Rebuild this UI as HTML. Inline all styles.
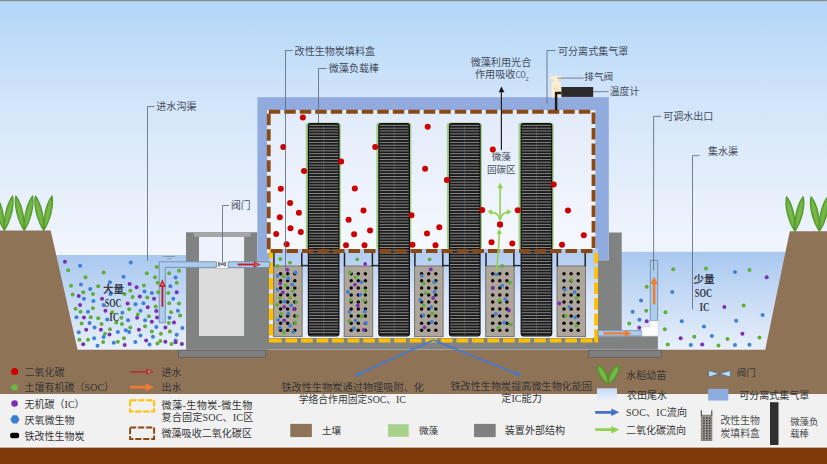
<!DOCTYPE html>
<html><head><meta charset="utf-8"><title>diagram</title>
<style>html,body{margin:0;padding:0;background:#fff;font-family:"Liberation Sans",sans-serif}svg{display:block}svg text{font-family:"Liberation Serif","Noto Sans CJK SC",sans-serif}</style>
</head><body>
<svg width="827" height="464" viewBox="0 0 827 464">
<defs>
<linearGradient id="sky" x1="0" y1="0" x2="0" y2="1"><stop offset="0" stop-color="#b2d6f8"/><stop offset="0.4" stop-color="#d2e5fa"/><stop offset="0.75" stop-color="#e6effb"/><stop offset="1" stop-color="#f2f6fd"/></linearGradient>
<linearGradient id="water" x1="0" y1="0" x2="0" y2="1"><stop offset="0" stop-color="#a9c8f0"/><stop offset="1" stop-color="#e9f0fb"/></linearGradient>
<linearGradient id="hoodin" x1="0" y1="0" x2="0" y2="1"><stop offset="0" stop-color="#e2ebfa"/><stop offset="1" stop-color="#f6f9fe"/></linearGradient>
<linearGradient id="inwater" x1="0" y1="0" x2="0" y2="1"><stop offset="0" stop-color="#afcaf1"/><stop offset="0.2" stop-color="#bed4f4"/><stop offset="0.5" stop-color="#d9e6f9"/><stop offset="1" stop-color="#eaf1fc"/></linearGradient>
<linearGradient id="leaf" x1="0" y1="0" x2="1" y2="0"><stop offset="0" stop-color="#4f9a2a"/><stop offset="0.5" stop-color="#7cc04a"/><stop offset="1" stop-color="#4f9a2a"/></linearGradient>
<pattern id="rodpat" x="0" y="123.9" width="1.72" height="2.84" patternUnits="userSpaceOnUse"><rect width="1.72" height="2.84" fill="#121212"/><rect y="1.0" width="1.72" height="0.85" fill="#868686"/><rect x="0.6" y="1.0" width="0.6" height="0.85" fill="#b4b4b4"/><rect x="0.65" width="0.45" height="2.84" fill="#777" opacity="0.35"/></pattern>
<linearGradient id="swatch" x1="0" y1="0" x2="0" y2="1"><stop offset="0" stop-color="#c6daf5"/><stop offset="1" stop-color="#e8f0fb"/></linearGradient>
</defs>
<rect x="0.00" y="0.00" width="827.00" height="256.00" fill="url(#sky)" />
<rect x="0.00" y="255.00" width="827.00" height="145.00" fill="#f2f6fd" />
<rect x="0.00" y="0.00" width="827.00" height="1.20" fill="#8c8c8c" />
<polygon points="50.00,254.90 187.00,254.90 187.00,351.00 70.00,351.00" fill="url(#water)" />
<polygon points="621.00,251.70 790.00,251.70 790.00,351.00 621.00,351.00" fill="url(#water)" />
<polygon points="0.00,230.60 50.70,230.60 77.60,349.80 765.20,349.80 789.80,231.20 827.00,231.20 827.00,395.00 0.00,395.00" fill="#8f7357" />
<rect x="0.00" y="394.00" width="827.00" height="53.20" fill="#f1f1f1" />
<rect x="0.00" y="446.20" width="827.00" height="1.80" fill="#fbfbfb" />
<rect x="0.00" y="447.60" width="827.00" height="16.40" fill="#80390b" />
<polygon points="186.00,232.20 257.30,232.20 257.30,260.40 269.20,260.40 269.20,349.60 186.00,349.60" fill="#818282" />
<rect x="199.00" y="236.80" width="45.10" height="31.60" fill="#edf2fb" />
<rect x="199.00" y="268.40" width="45.10" height="67.60" fill="#dddcdc" />
<rect x="194.00" y="232.20" width="56.70" height="4.60" fill="#a3a7a8" />
<rect x="186.00" y="336.30" width="471.90" height="13.30" fill="#818282" />
<polygon points="608.80,232.40 621.70,232.40 621.70,330.40 597.80,330.40 597.80,260.20 608.80,260.20" fill="#818282" />
<rect x="178.50" y="350.30" width="87.00" height="7.00" fill="#808080" stroke="#5e5e5e" stroke-width="0.8"/>
<rect x="588.80" y="350.30" width="72.50" height="7.00" fill="#808080" stroke="#5e5e5e" stroke-width="0.8"/>
<rect x="257.40" y="97.20" width="351.40" height="163.10" fill="#91abde" />
<rect x="267.00" y="110.00" width="328.40" height="142.90" fill="url(#hoodin)" />
<rect x="269.00" y="249.00" width="329.00" height="89.00" fill="url(#inwater)" />
<rect x="305.70" y="122.6" width="35.2" height="127" rx="3" fill="#a6d18b"/>
<rect x="308.40" y="123.5" width="30.5" height="212.3" rx="2.2" fill="url(#rodpat)"/>
<rect x="308.40" y="123.5" width="30.5" height="212.3" rx="2.2" fill="none" stroke="#111" stroke-width="1.2"/>
<line x1="323.60" y1="125.00" x2="323.60" y2="335.00" stroke="#888" stroke-width="0.60" opacity="0.6"/>
<rect x="376.20" y="122.6" width="35.2" height="127" rx="3" fill="#a6d18b"/>
<rect x="378.90" y="123.5" width="30.5" height="212.3" rx="2.2" fill="url(#rodpat)"/>
<rect x="378.90" y="123.5" width="30.5" height="212.3" rx="2.2" fill="none" stroke="#111" stroke-width="1.2"/>
<line x1="394.10" y1="125.00" x2="394.10" y2="335.00" stroke="#888" stroke-width="0.60" opacity="0.6"/>
<rect x="446.80" y="122.6" width="35.2" height="127" rx="3" fill="#a6d18b"/>
<rect x="449.50" y="123.5" width="30.5" height="212.3" rx="2.2" fill="url(#rodpat)"/>
<rect x="449.50" y="123.5" width="30.5" height="212.3" rx="2.2" fill="none" stroke="#111" stroke-width="1.2"/>
<line x1="464.70" y1="125.00" x2="464.70" y2="335.00" stroke="#888" stroke-width="0.60" opacity="0.6"/>
<rect x="518.50" y="122.6" width="35.2" height="127" rx="3" fill="#a6d18b"/>
<rect x="521.20" y="123.5" width="30.5" height="212.3" rx="2.2" fill="url(#rodpat)"/>
<rect x="521.20" y="123.5" width="30.5" height="212.3" rx="2.2" fill="none" stroke="#111" stroke-width="1.2"/>
<line x1="536.40" y1="125.00" x2="536.40" y2="335.00" stroke="#888" stroke-width="0.60" opacity="0.6"/>
<rect x="273.60" y="266.00" width="28.50" height="70.60" fill="#aea69a" stroke="#77726b" stroke-width="1"/>
<line x1="273.90" y1="252.80" x2="273.90" y2="266.30" stroke="#222" stroke-width="1.50" />
<line x1="301.80" y1="252.80" x2="301.80" y2="266.30" stroke="#222" stroke-width="1.50" />
<circle cx="280.60" cy="273.80" r="1.75" fill="#0a0a0a" />
<circle cx="287.70" cy="273.80" r="1.75" fill="#0a0a0a" />
<circle cx="294.80" cy="273.80" r="1.75" fill="#0a0a0a" />
<circle cx="280.60" cy="280.85" r="1.75" fill="#0a0a0a" />
<circle cx="287.70" cy="280.85" r="1.75" fill="#0a0a0a" />
<circle cx="294.80" cy="280.85" r="1.75" fill="#0a0a0a" />
<circle cx="280.60" cy="287.90" r="1.75" fill="#0a0a0a" />
<circle cx="287.70" cy="287.90" r="1.75" fill="#0a0a0a" />
<circle cx="294.80" cy="287.90" r="1.75" fill="#0a0a0a" />
<circle cx="280.60" cy="294.95" r="1.75" fill="#0a0a0a" />
<circle cx="287.70" cy="294.95" r="1.75" fill="#0a0a0a" />
<circle cx="294.80" cy="294.95" r="1.75" fill="#0a0a0a" />
<circle cx="280.60" cy="302.00" r="1.75" fill="#0a0a0a" />
<circle cx="287.70" cy="302.00" r="1.75" fill="#0a0a0a" />
<circle cx="294.80" cy="302.00" r="1.75" fill="#0a0a0a" />
<circle cx="280.60" cy="309.05" r="1.75" fill="#0a0a0a" />
<circle cx="287.70" cy="309.05" r="1.75" fill="#0a0a0a" />
<circle cx="294.80" cy="309.05" r="1.75" fill="#0a0a0a" />
<circle cx="280.60" cy="316.10" r="1.75" fill="#0a0a0a" />
<circle cx="287.70" cy="316.10" r="1.75" fill="#0a0a0a" />
<circle cx="294.80" cy="316.10" r="1.75" fill="#0a0a0a" />
<circle cx="280.60" cy="323.15" r="1.75" fill="#0a0a0a" />
<circle cx="287.70" cy="323.15" r="1.75" fill="#0a0a0a" />
<circle cx="294.80" cy="323.15" r="1.75" fill="#0a0a0a" />
<circle cx="280.60" cy="330.20" r="1.75" fill="#0a0a0a" />
<circle cx="287.70" cy="330.20" r="1.75" fill="#0a0a0a" />
<circle cx="294.80" cy="330.20" r="1.75" fill="#0a0a0a" />
<rect x="344.20" y="266.00" width="28.50" height="70.60" fill="#aea69a" stroke="#77726b" stroke-width="1"/>
<line x1="344.50" y1="252.80" x2="344.50" y2="266.30" stroke="#222" stroke-width="1.50" />
<line x1="372.40" y1="252.80" x2="372.40" y2="266.30" stroke="#222" stroke-width="1.50" />
<circle cx="351.20" cy="273.80" r="1.75" fill="#0a0a0a" />
<circle cx="358.30" cy="273.80" r="1.75" fill="#0a0a0a" />
<circle cx="365.40" cy="273.80" r="1.75" fill="#0a0a0a" />
<circle cx="351.20" cy="280.85" r="1.75" fill="#0a0a0a" />
<circle cx="358.30" cy="280.85" r="1.75" fill="#0a0a0a" />
<circle cx="365.40" cy="280.85" r="1.75" fill="#0a0a0a" />
<circle cx="351.20" cy="287.90" r="1.75" fill="#0a0a0a" />
<circle cx="358.30" cy="287.90" r="1.75" fill="#0a0a0a" />
<circle cx="365.40" cy="287.90" r="1.75" fill="#0a0a0a" />
<circle cx="351.20" cy="294.95" r="1.75" fill="#0a0a0a" />
<circle cx="358.30" cy="294.95" r="1.75" fill="#0a0a0a" />
<circle cx="365.40" cy="294.95" r="1.75" fill="#0a0a0a" />
<circle cx="351.20" cy="302.00" r="1.75" fill="#0a0a0a" />
<circle cx="358.30" cy="302.00" r="1.75" fill="#0a0a0a" />
<circle cx="365.40" cy="302.00" r="1.75" fill="#0a0a0a" />
<circle cx="351.20" cy="309.05" r="1.75" fill="#0a0a0a" />
<circle cx="358.30" cy="309.05" r="1.75" fill="#0a0a0a" />
<circle cx="365.40" cy="309.05" r="1.75" fill="#0a0a0a" />
<circle cx="351.20" cy="316.10" r="1.75" fill="#0a0a0a" />
<circle cx="358.30" cy="316.10" r="1.75" fill="#0a0a0a" />
<circle cx="365.40" cy="316.10" r="1.75" fill="#0a0a0a" />
<circle cx="351.20" cy="323.15" r="1.75" fill="#0a0a0a" />
<circle cx="358.30" cy="323.15" r="1.75" fill="#0a0a0a" />
<circle cx="365.40" cy="323.15" r="1.75" fill="#0a0a0a" />
<circle cx="351.20" cy="330.20" r="1.75" fill="#0a0a0a" />
<circle cx="358.30" cy="330.20" r="1.75" fill="#0a0a0a" />
<circle cx="365.40" cy="330.20" r="1.75" fill="#0a0a0a" />
<rect x="414.60" y="266.00" width="28.50" height="70.60" fill="#aea69a" stroke="#77726b" stroke-width="1"/>
<line x1="414.90" y1="252.80" x2="414.90" y2="266.30" stroke="#222" stroke-width="1.50" />
<line x1="442.80" y1="252.80" x2="442.80" y2="266.30" stroke="#222" stroke-width="1.50" />
<circle cx="421.60" cy="273.80" r="1.75" fill="#0a0a0a" />
<circle cx="428.70" cy="273.80" r="1.75" fill="#0a0a0a" />
<circle cx="435.80" cy="273.80" r="1.75" fill="#0a0a0a" />
<circle cx="421.60" cy="280.85" r="1.75" fill="#0a0a0a" />
<circle cx="428.70" cy="280.85" r="1.75" fill="#0a0a0a" />
<circle cx="435.80" cy="280.85" r="1.75" fill="#0a0a0a" />
<circle cx="421.60" cy="287.90" r="1.75" fill="#0a0a0a" />
<circle cx="428.70" cy="287.90" r="1.75" fill="#0a0a0a" />
<circle cx="435.80" cy="287.90" r="1.75" fill="#0a0a0a" />
<circle cx="421.60" cy="294.95" r="1.75" fill="#0a0a0a" />
<circle cx="428.70" cy="294.95" r="1.75" fill="#0a0a0a" />
<circle cx="435.80" cy="294.95" r="1.75" fill="#0a0a0a" />
<circle cx="421.60" cy="302.00" r="1.75" fill="#0a0a0a" />
<circle cx="428.70" cy="302.00" r="1.75" fill="#0a0a0a" />
<circle cx="435.80" cy="302.00" r="1.75" fill="#0a0a0a" />
<circle cx="421.60" cy="309.05" r="1.75" fill="#0a0a0a" />
<circle cx="428.70" cy="309.05" r="1.75" fill="#0a0a0a" />
<circle cx="435.80" cy="309.05" r="1.75" fill="#0a0a0a" />
<circle cx="421.60" cy="316.10" r="1.75" fill="#0a0a0a" />
<circle cx="428.70" cy="316.10" r="1.75" fill="#0a0a0a" />
<circle cx="435.80" cy="316.10" r="1.75" fill="#0a0a0a" />
<circle cx="421.60" cy="323.15" r="1.75" fill="#0a0a0a" />
<circle cx="428.70" cy="323.15" r="1.75" fill="#0a0a0a" />
<circle cx="435.80" cy="323.15" r="1.75" fill="#0a0a0a" />
<circle cx="421.60" cy="330.20" r="1.75" fill="#0a0a0a" />
<circle cx="428.70" cy="330.20" r="1.75" fill="#0a0a0a" />
<circle cx="435.80" cy="330.20" r="1.75" fill="#0a0a0a" />
<rect x="485.70" y="266.00" width="28.50" height="70.60" fill="#aea69a" stroke="#77726b" stroke-width="1"/>
<line x1="486.00" y1="252.80" x2="486.00" y2="266.30" stroke="#222" stroke-width="1.50" />
<line x1="513.90" y1="252.80" x2="513.90" y2="266.30" stroke="#222" stroke-width="1.50" />
<circle cx="492.70" cy="273.80" r="1.75" fill="#0a0a0a" />
<circle cx="499.80" cy="273.80" r="1.75" fill="#0a0a0a" />
<circle cx="506.90" cy="273.80" r="1.75" fill="#0a0a0a" />
<circle cx="492.70" cy="280.85" r="1.75" fill="#0a0a0a" />
<circle cx="499.80" cy="280.85" r="1.75" fill="#0a0a0a" />
<circle cx="506.90" cy="280.85" r="1.75" fill="#0a0a0a" />
<circle cx="492.70" cy="287.90" r="1.75" fill="#0a0a0a" />
<circle cx="499.80" cy="287.90" r="1.75" fill="#0a0a0a" />
<circle cx="506.90" cy="287.90" r="1.75" fill="#0a0a0a" />
<circle cx="492.70" cy="294.95" r="1.75" fill="#0a0a0a" />
<circle cx="499.80" cy="294.95" r="1.75" fill="#0a0a0a" />
<circle cx="506.90" cy="294.95" r="1.75" fill="#0a0a0a" />
<circle cx="492.70" cy="302.00" r="1.75" fill="#0a0a0a" />
<circle cx="499.80" cy="302.00" r="1.75" fill="#0a0a0a" />
<circle cx="506.90" cy="302.00" r="1.75" fill="#0a0a0a" />
<circle cx="492.70" cy="309.05" r="1.75" fill="#0a0a0a" />
<circle cx="499.80" cy="309.05" r="1.75" fill="#0a0a0a" />
<circle cx="506.90" cy="309.05" r="1.75" fill="#0a0a0a" />
<circle cx="492.70" cy="316.10" r="1.75" fill="#0a0a0a" />
<circle cx="499.80" cy="316.10" r="1.75" fill="#0a0a0a" />
<circle cx="506.90" cy="316.10" r="1.75" fill="#0a0a0a" />
<circle cx="492.70" cy="323.15" r="1.75" fill="#0a0a0a" />
<circle cx="499.80" cy="323.15" r="1.75" fill="#0a0a0a" />
<circle cx="506.90" cy="323.15" r="1.75" fill="#0a0a0a" />
<circle cx="492.70" cy="330.20" r="1.75" fill="#0a0a0a" />
<circle cx="499.80" cy="330.20" r="1.75" fill="#0a0a0a" />
<circle cx="506.90" cy="330.20" r="1.75" fill="#0a0a0a" />
<rect x="557.00" y="266.00" width="28.50" height="70.60" fill="#aea69a" stroke="#77726b" stroke-width="1"/>
<line x1="557.30" y1="252.80" x2="557.30" y2="266.30" stroke="#222" stroke-width="1.50" />
<line x1="585.20" y1="252.80" x2="585.20" y2="266.30" stroke="#222" stroke-width="1.50" />
<circle cx="564.00" cy="273.80" r="1.75" fill="#0a0a0a" />
<circle cx="571.10" cy="273.80" r="1.75" fill="#0a0a0a" />
<circle cx="578.20" cy="273.80" r="1.75" fill="#0a0a0a" />
<circle cx="564.00" cy="280.85" r="1.75" fill="#0a0a0a" />
<circle cx="571.10" cy="280.85" r="1.75" fill="#0a0a0a" />
<circle cx="578.20" cy="280.85" r="1.75" fill="#0a0a0a" />
<circle cx="564.00" cy="287.90" r="1.75" fill="#0a0a0a" />
<circle cx="571.10" cy="287.90" r="1.75" fill="#0a0a0a" />
<circle cx="578.20" cy="287.90" r="1.75" fill="#0a0a0a" />
<circle cx="564.00" cy="294.95" r="1.75" fill="#0a0a0a" />
<circle cx="571.10" cy="294.95" r="1.75" fill="#0a0a0a" />
<circle cx="578.20" cy="294.95" r="1.75" fill="#0a0a0a" />
<circle cx="564.00" cy="302.00" r="1.75" fill="#0a0a0a" />
<circle cx="571.10" cy="302.00" r="1.75" fill="#0a0a0a" />
<circle cx="578.20" cy="302.00" r="1.75" fill="#0a0a0a" />
<circle cx="564.00" cy="309.05" r="1.75" fill="#0a0a0a" />
<circle cx="571.10" cy="309.05" r="1.75" fill="#0a0a0a" />
<circle cx="578.20" cy="309.05" r="1.75" fill="#0a0a0a" />
<circle cx="564.00" cy="316.10" r="1.75" fill="#0a0a0a" />
<circle cx="571.10" cy="316.10" r="1.75" fill="#0a0a0a" />
<circle cx="578.20" cy="316.10" r="1.75" fill="#0a0a0a" />
<circle cx="564.00" cy="323.15" r="1.75" fill="#0a0a0a" />
<circle cx="571.10" cy="323.15" r="1.75" fill="#0a0a0a" />
<circle cx="578.20" cy="323.15" r="1.75" fill="#0a0a0a" />
<circle cx="564.00" cy="330.20" r="1.75" fill="#0a0a0a" />
<circle cx="571.10" cy="330.20" r="1.75" fill="#0a0a0a" />
<circle cx="578.20" cy="330.20" r="1.75" fill="#0a0a0a" />
<line x1="301.10" y1="265.60" x2="308.90" y2="265.60" stroke="#222" stroke-width="1.40" />
<line x1="371.70" y1="265.60" x2="379.40" y2="265.60" stroke="#222" stroke-width="1.40" />
<line x1="442.10" y1="265.60" x2="450.00" y2="265.60" stroke="#222" stroke-width="1.40" />
<line x1="513.20" y1="265.60" x2="521.70" y2="265.60" stroke="#222" stroke-width="1.40" />
<circle cx="280.30" cy="259.00" r="1.90" fill="#5fae3a" />
<circle cx="290.00" cy="262.70" r="1.90" fill="#5fae3a" />
<circle cx="277.50" cy="265.90" r="1.90" fill="#5fae3a" />
<circle cx="287.40" cy="269.80" r="1.90" fill="#7a2fb0" />
<circle cx="295.40" cy="272.40" r="1.90" fill="#3f7fd6" />
<circle cx="277.50" cy="275.80" r="1.90" fill="#3f7fd6" />
<circle cx="283.60" cy="276.30" r="1.90" fill="#5fae3a" />
<circle cx="288.30" cy="278.40" r="1.90" fill="#3f7fd6" />
<circle cx="280.30" cy="283.40" r="1.90" fill="#7a2fb0" />
<circle cx="285.70" cy="285.50" r="1.90" fill="#5fae3a" />
<circle cx="292.20" cy="284.40" r="1.90" fill="#3f7fd6" />
<circle cx="277.50" cy="289.60" r="1.90" fill="#3f7fd6" />
<circle cx="292.80" cy="290.90" r="1.90" fill="#5fae3a" />
<circle cx="282.90" cy="292.40" r="1.90" fill="#7a2fb0" />
<circle cx="279.70" cy="297.80" r="1.90" fill="#5fae3a" />
<circle cx="290.00" cy="297.80" r="1.90" fill="#5fae3a" />
<circle cx="284.60" cy="301.50" r="1.90" fill="#3f7fd6" />
<circle cx="296.50" cy="302.10" r="1.90" fill="#5fae3a" />
<circle cx="277.10" cy="304.90" r="1.90" fill="#5fae3a" />
<circle cx="291.10" cy="305.30" r="1.90" fill="#3f7fd6" />
<circle cx="284.20" cy="306.90" r="1.90" fill="#7a2fb0" />
<circle cx="293.90" cy="309.00" r="1.90" fill="#7a2fb0" />
<circle cx="281.00" cy="314.00" r="1.90" fill="#5fae3a" />
<circle cx="288.30" cy="313.50" r="1.90" fill="#3f7fd6" />
<circle cx="297.10" cy="316.10" r="1.90" fill="#5fae3a" />
<circle cx="278.20" cy="319.80" r="1.90" fill="#3f7fd6" />
<circle cx="284.20" cy="320.40" r="1.90" fill="#7a2fb0" />
<circle cx="295.40" cy="323.00" r="1.90" fill="#5fae3a" />
<circle cx="290.00" cy="325.80" r="1.90" fill="#3f7fd6" />
<circle cx="279.70" cy="328.00" r="1.90" fill="#3f7fd6" />
<circle cx="284.20" cy="332.70" r="1.90" fill="#5fae3a" />
<circle cx="293.20" cy="331.90" r="1.90" fill="#3f7fd6" />
<circle cx="357.20" cy="259.30" r="1.90" fill="#5fae3a" />
<circle cx="365.20" cy="263.90" r="1.90" fill="#7a2fb0" />
<circle cx="349.90" cy="272.40" r="1.90" fill="#5fae3a" />
<circle cx="355.50" cy="277.30" r="1.90" fill="#5fae3a" />
<circle cx="361.40" cy="282.10" r="1.90" fill="#3f7fd6" />
<circle cx="354.90" cy="284.70" r="1.90" fill="#7a2fb0" />
<circle cx="365.40" cy="290.60" r="1.90" fill="#5fae3a" />
<circle cx="347.90" cy="292.00" r="1.90" fill="#3f7fd6" />
<circle cx="360.40" cy="294.60" r="1.90" fill="#3f7fd6" />
<circle cx="350.90" cy="299.90" r="1.90" fill="#5fae3a" />
<circle cx="364.20" cy="300.50" r="1.90" fill="#5fae3a" />
<circle cx="357.80" cy="305.50" r="1.90" fill="#7a2fb0" />
<circle cx="349.30" cy="311.80" r="1.90" fill="#3f7fd6" />
<circle cx="364.80" cy="311.40" r="1.90" fill="#3f7fd6" />
<circle cx="361.80" cy="316.40" r="1.90" fill="#5fae3a" />
<circle cx="348.90" cy="320.90" r="1.90" fill="#5fae3a" />
<circle cx="355.50" cy="320.70" r="1.90" fill="#3f7fd6" />
<circle cx="365.80" cy="322.90" r="1.90" fill="#3f7fd6" />
<circle cx="353.90" cy="328.30" r="1.90" fill="#3f7fd6" />
<circle cx="363.80" cy="329.90" r="1.90" fill="#7a2fb0" />
<circle cx="429.60" cy="259.30" r="1.90" fill="#5fae3a" />
<circle cx="430.80" cy="269.40" r="1.90" fill="#7a2fb0" />
<circle cx="421.90" cy="275.80" r="1.90" fill="#3f7fd6" />
<circle cx="434.20" cy="282.10" r="1.90" fill="#3f7fd6" />
<circle cx="423.80" cy="283.30" r="1.90" fill="#5fae3a" />
<circle cx="434.50" cy="292.00" r="1.90" fill="#3f7fd6" />
<circle cx="425.80" cy="293.20" r="1.90" fill="#5fae3a" />
<circle cx="433.20" cy="298.00" r="1.90" fill="#7a2fb0" />
<circle cx="420.30" cy="299.90" r="1.90" fill="#3f7fd6" />
<circle cx="423.80" cy="305.50" r="1.90" fill="#5fae3a" />
<circle cx="431.20" cy="307.10" r="1.90" fill="#3f7fd6" />
<circle cx="432.20" cy="313.40" r="1.90" fill="#5fae3a" />
<circle cx="423.30" cy="315.40" r="1.90" fill="#3f7fd6" />
<circle cx="431.80" cy="321.90" r="1.90" fill="#3f7fd6" />
<circle cx="424.60" cy="327.30" r="1.90" fill="#7a2fb0" />
<circle cx="502.20" cy="265.80" r="1.90" fill="#5fae3a" />
<circle cx="496.30" cy="274.20" r="1.90" fill="#3f7fd6" />
<circle cx="509.80" cy="282.70" r="1.90" fill="#5fae3a" />
<circle cx="502.20" cy="285.70" r="1.90" fill="#3f7fd6" />
<circle cx="492.90" cy="288.10" r="1.90" fill="#7a2fb0" />
<circle cx="505.40" cy="299.20" r="1.90" fill="#3f7fd6" />
<circle cx="499.20" cy="300.60" r="1.90" fill="#5fae3a" />
<circle cx="508.80" cy="310.50" r="1.90" fill="#7a2fb0" />
<circle cx="495.90" cy="314.00" r="1.90" fill="#3f7fd6" />
<circle cx="504.20" cy="322.40" r="1.90" fill="#3f7fd6" />
<circle cx="510.70" cy="324.40" r="1.90" fill="#5fae3a" />
<circle cx="498.40" cy="327.70" r="1.90" fill="#5fae3a" />
<circle cx="571.60" cy="280.10" r="1.90" fill="#5fae3a" />
<circle cx="564.90" cy="289.60" r="1.90" fill="#3f7fd6" />
<circle cx="574.60" cy="292.00" r="1.90" fill="#3f7fd6" />
<circle cx="576.60" cy="298.00" r="1.90" fill="#5fae3a" />
<circle cx="559.30" cy="303.50" r="1.90" fill="#7a2fb0" />
<circle cx="569.30" cy="307.10" r="1.90" fill="#3f7fd6" />
<circle cx="565.70" cy="315.80" r="1.90" fill="#5fae3a" />
<circle cx="575.20" cy="317.40" r="1.90" fill="#3f7fd6" />
<circle cx="576.20" cy="325.70" r="1.90" fill="#5fae3a" />
<circle cx="302.90" cy="117.50" r="3.00" fill="#cc0000" />
<circle cx="283.30" cy="147.00" r="3.00" fill="#cc0000" />
<circle cx="304.00" cy="171.00" r="3.00" fill="#cc0000" />
<circle cx="280.80" cy="188.70" r="3.00" fill="#cc0000" />
<circle cx="290.10" cy="203.00" r="3.00" fill="#cc0000" />
<circle cx="298.90" cy="212.70" r="3.00" fill="#cc0000" />
<circle cx="279.80" cy="217.20" r="3.00" fill="#cc0000" />
<circle cx="290.50" cy="228.20" r="3.00" fill="#cc0000" />
<circle cx="300.80" cy="232.00" r="3.00" fill="#cc0000" />
<circle cx="276.20" cy="234.00" r="3.00" fill="#cc0000" />
<circle cx="286.60" cy="244.30" r="3.00" fill="#cc0000" />
<circle cx="375.20" cy="147.00" r="3.00" fill="#cc0000" />
<circle cx="341.20" cy="161.60" r="3.00" fill="#cc0000" />
<circle cx="354.80" cy="188.40" r="3.00" fill="#cc0000" />
<circle cx="363.50" cy="210.40" r="3.00" fill="#cc0000" />
<circle cx="348.60" cy="219.80" r="3.00" fill="#cc0000" />
<circle cx="354.10" cy="234.30" r="3.00" fill="#cc0000" />
<circle cx="370.00" cy="230.40" r="3.00" fill="#cc0000" />
<circle cx="346.00" cy="245.30" r="3.00" fill="#cc0000" />
<circle cx="364.50" cy="245.30" r="3.00" fill="#cc0000" />
<circle cx="427.70" cy="126.70" r="3.00" fill="#cc0000" />
<circle cx="425.10" cy="168.70" r="3.00" fill="#cc0000" />
<circle cx="446.80" cy="180.00" r="3.00" fill="#cc0000" />
<circle cx="411.50" cy="215.20" r="3.00" fill="#cc0000" />
<circle cx="439.30" cy="227.20" r="3.00" fill="#cc0000" />
<circle cx="427.00" cy="233.40" r="3.00" fill="#cc0000" />
<circle cx="412.50" cy="244.70" r="3.00" fill="#cc0000" />
<circle cx="435.50" cy="245.30" r="3.00" fill="#cc0000" />
<circle cx="492.80" cy="149.60" r="3.00" fill="#cc0000" />
<circle cx="482.20" cy="209.90" r="3.00" fill="#cc0000" />
<circle cx="517.70" cy="210.30" r="3.00" fill="#cc0000" />
<circle cx="500.00" cy="224.60" r="3.00" fill="#cc0000" />
<circle cx="491.50" cy="242.30" r="3.00" fill="#cc0000" />
<circle cx="512.30" cy="243.50" r="3.00" fill="#cc0000" />
<circle cx="553.70" cy="184.50" r="3.00" fill="#cc0000" />
<circle cx="568.00" cy="210.40" r="3.00" fill="#cc0000" />
<circle cx="583.80" cy="235.30" r="3.00" fill="#cc0000" />
<circle cx="562.00" cy="244.70" r="3.00" fill="#cc0000" />
<line x1="271.05" y1="335.60" x2="271.05" y2="249.30" stroke="#ffc000" stroke-width="4.10" stroke-dasharray="11.6 3.8"/>
<line x1="269.00" y1="340.55" x2="598.10" y2="340.55" stroke="#ffc000" stroke-width="4.10" stroke-dasharray="12.7 3.74 11.8 3.74 11.8 3.74 11.8 3.74 11.8 3.74 11.8 3.74 11.8 3.74 11.8 3.74 11.8 3.74 11.8 3.74 11.8 3.74 11.8 3.74 11.8 3.74 11.8 3.74 11.8 3.74 11.8 3.74 11.8 3.74 11.8 3.74 11.8 3.74 11.8 3.74 11.8 3.9 2 200"/>
<line x1="596.10" y1="342.60" x2="596.10" y2="253.00" stroke="#ffc000" stroke-width="3.90" stroke-dasharray="13.3 3.9 11.8 3.9 11.8 3.8 11.5 3.6 12.1 3.6 11.6 200"/>
<rect x="268.75" y="111.75" width="324.75" height="139.25" fill="none" stroke="#8b4a15" stroke-width="3.8" stroke-dasharray="11.5 4"/>
<path d="M159.2 322.8 V261.8 H216.4 V267.4 H165.3 V322.8 Z" fill="#adcdec" stroke="#6f8db2" stroke-width="0.9"/>
<rect x="228.20" y="261.80" width="41.40" height="5.60" fill="#adcdec" stroke="#6f8db2" stroke-width="0.9"/>
<path d="M218.6 262.4 L225.3 265.9 L225.3 262.4 L218.6 265.9 Z" fill="#c8d4e0" stroke="#444" stroke-width="0.8"/>
<rect x="597.90" y="330.70" width="43.90" height="5.30" fill="#adcdec" stroke="#6f8db2" stroke-width="0.9"/>
<rect x="650.30" y="260.30" width="7.40" height="60.30" fill="#adcdec" stroke="#6f8db2" stroke-width="0.9"/>
<path d="M641.8 327 H650.1 V320.7 H657.9 V336.1 H641.8 Z" fill="#fdfdfd" stroke="#bbb" stroke-width="0.6" stroke-dasharray="1 1"/>
<line x1="162.60" y1="256.50" x2="175.20" y2="256.50" stroke="#7d8ea6" stroke-width="0.80" />
<line x1="166.50" y1="258.70" x2="172.00" y2="258.70" stroke="#7d8ea6" stroke-width="0.70" />
<path d="M237.70 263.50 H253.80 V261.30 L260.80 264.50 L253.80 267.70 V265.50 H237.70 Z" fill="#bd222d" />
<path d="M255.0 263.0 L258.6 264.5 L255.0 266.0 Z" fill="#e86a6a" />
<path d="M161.45 306.80 V286.90 H158.90 L162.40 279.30 L165.90 286.90 H163.35 V306.80 Z" fill="#bd222d" />
<path d="M161.0 285.6 L162.4 282.2 L163.8 285.6 Z" fill="#e86a6a" />
<path d="M603.30 332.30 H624.60 V330.10 L631.60 333.40 L624.60 336.70 V334.50 H603.30 Z" fill="#ed7d31" />
<path d="M652.80 304.30 V284.30 H650.30 L654.10 276.80 L657.90 284.30 H655.40 V304.30 Z" fill="#ed7d31" />
<circle cx="64.93" cy="261.76" r="2.00" fill="#7a2fb0" />
<circle cx="130.77" cy="262.44" r="2.00" fill="#3f7fd6" />
<circle cx="80.09" cy="265.84" r="2.00" fill="#3f7fd6" />
<circle cx="156.79" cy="266.97" r="2.00" fill="#5fae3a" />
<circle cx="68.10" cy="270.36" r="2.00" fill="#5fae3a" />
<circle cx="103.62" cy="272.62" r="2.00" fill="#5fae3a" />
<circle cx="146.83" cy="273.30" r="2.00" fill="#5fae3a" />
<circle cx="169.23" cy="273.30" r="2.00" fill="#5fae3a" />
<circle cx="178.96" cy="270.81" r="2.00" fill="#5fae3a" />
<circle cx="85.52" cy="277.15" r="2.00" fill="#5fae3a" />
<circle cx="123.53" cy="276.70" r="2.00" fill="#3f7fd6" />
<circle cx="154.98" cy="277.15" r="2.00" fill="#5fae3a" />
<circle cx="175.57" cy="277.60" r="2.00" fill="#3f7fd6" />
<circle cx="71.04" cy="285.75" r="2.00" fill="#5fae3a" />
<circle cx="81.00" cy="284.39" r="2.00" fill="#3f7fd6" />
<circle cx="109.95" cy="282.35" r="2.00" fill="#3f7fd6" />
<circle cx="129.64" cy="283.94" r="2.00" fill="#7a2fb0" />
<circle cx="143.89" cy="285.52" r="2.00" fill="#5fae3a" />
<circle cx="157.69" cy="282.81" r="2.00" fill="#5fae3a" />
<circle cx="170.36" cy="286.20" r="2.00" fill="#3f7fd6" />
<circle cx="176.70" cy="282.81" r="2.00" fill="#5fae3a" />
<circle cx="90.27" cy="288.91" r="2.00" fill="#3f7fd6" />
<circle cx="98.19" cy="286.20" r="2.00" fill="#5fae3a" />
<circle cx="136.65" cy="287.33" r="2.00" fill="#7a2fb0" />
<circle cx="130.32" cy="290.72" r="2.00" fill="#5fae3a" />
<circle cx="72.62" cy="294.57" r="2.00" fill="#5fae3a" />
<circle cx="78.73" cy="295.93" r="2.00" fill="#7a2fb0" />
<circle cx="83.26" cy="292.31" r="2.00" fill="#5fae3a" />
<circle cx="92.99" cy="294.12" r="2.00" fill="#5fae3a" />
<circle cx="110.41" cy="294.12" r="2.00" fill="#3f7fd6" />
<circle cx="124.66" cy="294.12" r="2.00" fill="#5fae3a" />
<circle cx="144.57" cy="291.40" r="2.00" fill="#3f7fd6" />
<circle cx="151.81" cy="292.99" r="2.00" fill="#3f7fd6" />
<circle cx="158.14" cy="292.31" r="2.00" fill="#5fae3a" />
<circle cx="168.33" cy="292.99" r="2.00" fill="#5fae3a" />
<circle cx="176.70" cy="292.31" r="2.00" fill="#7a2fb0" />
<circle cx="83.94" cy="298.64" r="2.00" fill="#3f7fd6" />
<circle cx="93.44" cy="300.90" r="2.00" fill="#3f7fd6" />
<circle cx="102.04" cy="298.64" r="2.00" fill="#7a2fb0" />
<circle cx="132.58" cy="297.06" r="2.00" fill="#5fae3a" />
<circle cx="139.82" cy="296.38" r="2.00" fill="#7a2fb0" />
<circle cx="147.29" cy="297.51" r="2.00" fill="#5fae3a" />
<circle cx="154.07" cy="298.64" r="2.00" fill="#7a2fb0" />
<circle cx="173.30" cy="298.64" r="2.00" fill="#3f7fd6" />
<circle cx="80.09" cy="304.98" r="2.00" fill="#7a2fb0" />
<circle cx="92.99" cy="308.14" r="2.00" fill="#5fae3a" />
<circle cx="103.62" cy="304.98" r="2.00" fill="#3f7fd6" />
<circle cx="127.60" cy="303.62" r="2.00" fill="#7a2fb0" />
<circle cx="135.52" cy="304.30" r="2.00" fill="#3f7fd6" />
<circle cx="143.44" cy="303.17" r="2.00" fill="#3f7fd6" />
<circle cx="155.66" cy="306.56" r="2.00" fill="#5fae3a" />
<circle cx="147.74" cy="307.24" r="2.00" fill="#7a2fb0" />
<circle cx="169.23" cy="303.17" r="2.00" fill="#5fae3a" />
<circle cx="178.96" cy="303.62" r="2.00" fill="#5fae3a" />
<circle cx="75.57" cy="308.82" r="2.00" fill="#5fae3a" />
<circle cx="80.54" cy="311.76" r="2.00" fill="#5fae3a" />
<circle cx="88.01" cy="311.76" r="2.00" fill="#3f7fd6" />
<circle cx="105.43" cy="310.63" r="2.00" fill="#7a2fb0" />
<circle cx="112.22" cy="312.22" r="2.00" fill="#5fae3a" />
<circle cx="122.40" cy="312.67" r="2.00" fill="#3f7fd6" />
<circle cx="129.19" cy="309.28" r="2.00" fill="#5fae3a" />
<circle cx="140.50" cy="310.63" r="2.00" fill="#3f7fd6" />
<circle cx="156.33" cy="311.09" r="2.00" fill="#7a2fb0" />
<circle cx="171.04" cy="312.22" r="2.00" fill="#5fae3a" />
<circle cx="177.83" cy="310.63" r="2.00" fill="#3f7fd6" />
<circle cx="76.47" cy="317.19" r="2.00" fill="#3f7fd6" />
<circle cx="83.94" cy="317.42" r="2.00" fill="#7a2fb0" />
<circle cx="90.72" cy="317.19" r="2.00" fill="#5fae3a" />
<circle cx="98.19" cy="318.33" r="2.00" fill="#5fae3a" />
<circle cx="121.27" cy="317.87" r="2.00" fill="#5fae3a" />
<circle cx="107.24" cy="319.46" r="2.00" fill="#3f7fd6" />
<circle cx="128.05" cy="320.14" r="2.00" fill="#3f7fd6" />
<circle cx="137.10" cy="317.87" r="2.00" fill="#7a2fb0" />
<circle cx="137.78" cy="314.48" r="2.00" fill="#5fae3a" />
<circle cx="148.87" cy="316.29" r="2.00" fill="#5fae3a" />
<circle cx="157.01" cy="317.42" r="2.00" fill="#7a2fb0" />
<circle cx="169.46" cy="317.87" r="2.00" fill="#3f7fd6" />
<circle cx="180.09" cy="315.61" r="2.00" fill="#5fae3a" />
<circle cx="81.67" cy="323.53" r="2.00" fill="#5fae3a" />
<circle cx="89.59" cy="323.08" r="2.00" fill="#3f7fd6" />
<circle cx="101.58" cy="323.98" r="2.00" fill="#5fae3a" />
<circle cx="116.29" cy="322.40" r="2.00" fill="#5fae3a" />
<circle cx="121.95" cy="323.98" r="2.00" fill="#5fae3a" />
<circle cx="145.02" cy="320.14" r="2.00" fill="#3f7fd6" />
<circle cx="151.81" cy="321.72" r="2.00" fill="#7a2fb0" />
<circle cx="173.98" cy="322.40" r="2.00" fill="#7a2fb0" />
<circle cx="168.78" cy="323.08" r="2.00" fill="#5fae3a" />
<circle cx="94.57" cy="327.60" r="2.00" fill="#3f7fd6" />
<circle cx="86.20" cy="329.86" r="2.00" fill="#7a2fb0" />
<circle cx="100.90" cy="329.86" r="2.00" fill="#7a2fb0" />
<circle cx="109.95" cy="329.19" r="2.00" fill="#5fae3a" />
<circle cx="125.79" cy="330.32" r="2.00" fill="#3f7fd6" />
<circle cx="130.32" cy="327.60" r="2.00" fill="#5fae3a" />
<circle cx="138.91" cy="329.86" r="2.00" fill="#7a2fb0" />
<circle cx="145.02" cy="326.24" r="2.00" fill="#5fae3a" />
<circle cx="156.33" cy="326.92" r="2.00" fill="#3f7fd6" />
<circle cx="165.38" cy="327.38" r="2.00" fill="#7a2fb0" />
<circle cx="182.35" cy="328.05" r="2.00" fill="#3f7fd6" />
<circle cx="78.73" cy="332.13" r="2.00" fill="#3f7fd6" />
<circle cx="117.87" cy="331.90" r="2.00" fill="#3f7fd6" />
<circle cx="104.98" cy="333.71" r="2.00" fill="#5fae3a" />
<circle cx="109.50" cy="334.39" r="2.00" fill="#7a2fb0" />
<circle cx="129.19" cy="331.90" r="2.00" fill="#3f7fd6" />
<circle cx="140.50" cy="335.52" r="2.00" fill="#3f7fd6" />
<circle cx="151.81" cy="331.45" r="2.00" fill="#5fae3a" />
<circle cx="160.86" cy="333.71" r="2.00" fill="#5fae3a" />
<circle cx="169.91" cy="331.45" r="2.00" fill="#5fae3a" />
<circle cx="176.70" cy="334.84" r="2.00" fill="#3f7fd6" />
<circle cx="79.41" cy="339.82" r="2.00" fill="#5fae3a" />
<circle cx="88.01" cy="339.82" r="2.00" fill="#5fae3a" />
<circle cx="94.12" cy="338.24" r="2.00" fill="#3f7fd6" />
<circle cx="103.62" cy="337.10" r="2.00" fill="#3f7fd6" />
<circle cx="123.98" cy="338.24" r="2.00" fill="#5fae3a" />
<circle cx="117.87" cy="341.63" r="2.00" fill="#5fae3a" />
<circle cx="152.94" cy="336.65" r="2.00" fill="#3f7fd6" />
<circle cx="146.15" cy="340.50" r="2.00" fill="#7a2fb0" />
<circle cx="160.41" cy="340.95" r="2.00" fill="#5fae3a" />
<circle cx="165.38" cy="341.63" r="2.00" fill="#7a2fb0" />
<circle cx="171.49" cy="343.89" r="2.00" fill="#5fae3a" />
<circle cx="175.57" cy="340.50" r="2.00" fill="#3f7fd6" />
<circle cx="83.26" cy="344.34" r="2.00" fill="#7a2fb0" />
<circle cx="97.51" cy="345.70" r="2.00" fill="#3f7fd6" />
<circle cx="103.17" cy="342.08" r="2.00" fill="#5fae3a" />
<circle cx="113.80" cy="342.76" r="2.00" fill="#3f7fd6" />
<circle cx="124.66" cy="345.02" r="2.00" fill="#7a2fb0" />
<circle cx="135.29" cy="342.08" r="2.00" fill="#3f7fd6" />
<circle cx="149.55" cy="344.57" r="2.00" fill="#3f7fd6" />
<circle cx="157.47" cy="343.44" r="2.00" fill="#5fae3a" />
<circle cx="175.57" cy="342.31" r="2.00" fill="#7a2fb0" />
<circle cx="181.90" cy="343.89" r="2.00" fill="#7a2fb0" />
<circle cx="673.18" cy="269.24" r="2.00" fill="#5fae3a" />
<circle cx="706.01" cy="268.56" r="2.00" fill="#5fae3a" />
<circle cx="734.99" cy="271.96" r="2.00" fill="#3f7fd6" />
<circle cx="749.48" cy="269.92" r="2.00" fill="#5fae3a" />
<circle cx="766.69" cy="277.17" r="2.00" fill="#7a2fb0" />
<circle cx="646.70" cy="286.68" r="2.00" fill="#5fae3a" />
<circle cx="672.28" cy="291.88" r="2.00" fill="#3f7fd6" />
<circle cx="641.04" cy="300.49" r="2.00" fill="#3f7fd6" />
<circle cx="724.35" cy="307.05" r="2.00" fill="#7a2fb0" />
<circle cx="743.59" cy="305.47" r="2.00" fill="#5fae3a" />
<circle cx="632.66" cy="311.81" r="2.00" fill="#3f7fd6" />
<circle cx="646.24" cy="310.67" r="2.00" fill="#5fae3a" />
<circle cx="665.49" cy="312.26" r="2.00" fill="#5fae3a" />
<circle cx="762.61" cy="314.98" r="2.00" fill="#3f7fd6" />
<circle cx="639.45" cy="319.73" r="2.00" fill="#3f7fd6" />
<circle cx="646.70" cy="321.32" r="2.00" fill="#7a2fb0" />
<circle cx="681.79" cy="321.32" r="2.00" fill="#3f7fd6" />
<circle cx="736.12" cy="320.86" r="2.00" fill="#3f7fd6" />
<circle cx="629.26" cy="323.58" r="2.00" fill="#5fae3a" />
<circle cx="639.22" cy="327.65" r="2.00" fill="#7a2fb0" />
<circle cx="703.97" cy="326.52" r="2.00" fill="#3f7fd6" />
<circle cx="664.81" cy="329.24" r="2.00" fill="#5fae3a" />
<circle cx="742.46" cy="333.77" r="2.00" fill="#7a2fb0" />
<circle cx="694.24" cy="336.71" r="2.00" fill="#5fae3a" />
<circle cx="711.90" cy="336.03" r="2.00" fill="#3f7fd6" />
<circle cx="680.66" cy="338.30" r="2.00" fill="#7a2fb0" />
<circle cx="727.52" cy="338.97" r="2.00" fill="#5fae3a" />
<circle cx="759.44" cy="337.62" r="2.00" fill="#5fae3a" />
<circle cx="667.75" cy="344.41" r="2.00" fill="#5fae3a" />
<circle cx="690.84" cy="345.09" r="2.00" fill="#3f7fd6" />
<circle cx="702.16" cy="344.41" r="2.00" fill="#7a2fb0" />
<circle cx="718.46" cy="345.54" r="2.00" fill="#5fae3a" />
<circle cx="734.99" cy="345.09" r="2.00" fill="#3f7fd6" />
<circle cx="749.48" cy="344.63" r="2.00" fill="#3f7fd6" />
<path d="M4.30 231.50 C6.22 219.49 1.92 201.24 -4.30 195.00 C-7.08 203.36 -2.78 221.61 4.30 231.50 Z" fill="#4f9129" />
<path d="M3.87 229.68 C5.03 218.88 1.12 202.28 -3.96 196.46 C-5.90 203.93 -1.99 220.54 3.87 229.68 Z" fill="#62a737" />
<path d="M3.18 226.75 C3.41 218.03 0.18 204.35 -3.27 199.38 C-4.14 205.36 -0.91 219.05 3.18 226.75 Z" fill="#76b948" />
<path d="M4.30 231.50 C11.38 221.61 15.68 203.36 12.90 195.00 C6.68 201.24 2.38 219.49 4.30 231.50 Z" fill="#4f9129" />
<path d="M4.73 229.68 C10.59 220.54 14.50 203.93 12.56 196.46 C7.48 202.28 3.57 218.88 4.73 229.68 Z" fill="#62a737" />
<path d="M5.42 226.75 C9.51 219.05 12.74 205.36 11.87 199.38 C8.42 204.35 5.19 218.03 5.42 226.75 Z" fill="#76b948" />
<path d="M24.20 231.50 C26.12 219.49 21.82 201.24 15.60 195.00 C12.82 203.36 17.12 221.61 24.20 231.50 Z" fill="#4f9129" />
<path d="M23.77 229.68 C24.93 218.88 21.02 202.28 15.94 196.46 C14.00 203.93 17.91 220.54 23.77 229.68 Z" fill="#62a737" />
<path d="M23.08 226.75 C23.31 218.03 20.08 204.35 16.63 199.38 C15.76 205.36 18.99 219.05 23.08 226.75 Z" fill="#76b948" />
<path d="M24.20 231.50 C31.28 221.61 35.58 203.36 32.80 195.00 C26.58 201.24 22.28 219.49 24.20 231.50 Z" fill="#4f9129" />
<path d="M24.63 229.68 C30.49 220.54 34.40 203.93 32.46 196.46 C27.38 202.28 23.47 218.88 24.63 229.68 Z" fill="#62a737" />
<path d="M25.32 226.75 C29.41 219.05 32.64 205.36 31.77 199.38 C28.32 204.35 25.09 218.03 25.32 226.75 Z" fill="#76b948" />
<path d="M43.70 231.50 C45.62 219.49 41.32 201.24 35.10 195.00 C32.32 203.36 36.62 221.61 43.70 231.50 Z" fill="#4f9129" />
<path d="M43.27 229.68 C44.43 218.88 40.52 202.28 35.44 196.46 C33.50 203.93 37.41 220.54 43.27 229.68 Z" fill="#62a737" />
<path d="M42.58 226.75 C42.81 218.03 39.58 204.35 36.13 199.38 C35.26 205.36 38.49 219.05 42.58 226.75 Z" fill="#76b948" />
<path d="M43.70 231.50 C50.78 221.61 55.08 203.36 52.30 195.00 C46.08 201.24 41.78 219.49 43.70 231.50 Z" fill="#4f9129" />
<path d="M44.13 229.68 C49.99 220.54 53.90 203.93 51.96 196.46 C46.88 202.28 42.97 218.88 44.13 229.68 Z" fill="#62a737" />
<path d="M44.82 226.75 C48.91 219.05 52.14 205.36 51.27 199.38 C47.82 204.35 44.59 218.03 44.82 226.75 Z" fill="#76b948" />
<path d="M794.90 232.20 C797.07 220.13 792.77 201.88 786.30 195.70 C783.27 204.12 787.57 222.37 794.90 232.20 Z" fill="#4f9129" />
<path d="M794.47 230.38 C795.83 219.54 791.92 202.93 786.64 197.16 C784.50 204.68 788.41 221.28 794.47 230.38 Z" fill="#62a737" />
<path d="M793.78 227.45 C794.13 218.70 790.90 205.02 787.33 200.08 C786.34 206.09 789.57 219.78 793.78 227.45 Z" fill="#76b948" />
<path d="M794.90 232.20 C802.23 222.37 806.53 204.12 803.50 195.70 C797.03 201.88 792.73 220.13 794.90 232.20 Z" fill="#4f9129" />
<path d="M795.33 230.38 C801.39 221.28 805.30 204.68 803.16 197.16 C797.88 202.93 793.97 219.54 795.33 230.38 Z" fill="#62a737" />
<path d="M796.02 227.45 C800.23 219.78 803.46 206.09 802.47 200.08 C798.90 205.02 795.67 218.70 796.02 227.45 Z" fill="#76b948" />
<path d="M819.40 232.20 C821.57 220.13 817.27 201.88 810.80 195.70 C807.77 204.12 812.07 222.37 819.40 232.20 Z" fill="#4f9129" />
<path d="M818.97 230.38 C820.33 219.54 816.42 202.93 811.14 197.16 C809.00 204.68 812.91 221.28 818.97 230.38 Z" fill="#62a737" />
<path d="M818.28 227.45 C818.63 218.70 815.40 205.02 811.83 200.08 C810.84 206.09 814.07 219.78 818.28 227.45 Z" fill="#76b948" />
<path d="M819.40 232.20 C826.73 222.37 831.03 204.12 828.00 195.70 C821.53 201.88 817.23 220.13 819.40 232.20 Z" fill="#4f9129" />
<path d="M819.83 230.38 C825.89 221.28 829.80 204.68 827.66 197.16 C822.38 202.93 818.47 219.54 819.83 230.38 Z" fill="#62a737" />
<path d="M820.52 227.45 C824.73 219.78 827.96 206.09 826.97 200.08 C823.40 205.02 820.17 218.70 820.52 227.45 Z" fill="#76b948" />
<g stroke="#92d050" stroke-width="1.6" fill="none" stroke-linecap="round">
<path d="M496.3 272.5 Q498.6 252 499.3 233" fill="none" />
<path d="M500.1 219 L500.2 187.5" fill="none" />
<path d="M499.6 219.5 Q499 212.5 490.5 212.3" fill="none" />
<path d="M500.6 219.5 Q501.5 212.5 508.3 212.3" fill="none" />
</g>
<path d="M496.6 234 L499.4 228.6 L502.0 234 Z" fill="#92d050" />
<path d="M497.4 188.3 L500.2 182.6 L503.0 188.3 Z" fill="#92d050" />
<path d="M492.3 209.6 L487.3 211.3 L491.7 215 Z" fill="#92d050" />
<path d="M506.6 209.6 L511.6 211.3 L507.2 215 Z" fill="#92d050" />
<circle cx="500.00" cy="224.60" r="3.00" fill="#cc0000" />
<line x1="433.30" y1="340.00" x2="357.00" y2="374.80" stroke="#3e7adb" stroke-width="1.50" />
<path d="M354.6 376.0 L359.4 371.4 L361.4 375.6 Z" fill="#3e7adb" />
<line x1="433.30" y1="340.00" x2="518.50" y2="374.60" stroke="#3e7adb" stroke-width="1.50" />
<path d="M521.0 375.6 L516.2 371.2 L514.4 375.5 Z" fill="#3e7adb" />
<rect x="549.7" y="76" width="12" height="3.2" rx="1.5" fill="#fbefce"/>
<rect x="553.70" y="78.50" width="4.70" height="3.50" fill="#fbefce" />
<path d="M551.4 97.4 V83.6 Q551.4 81.4 553.6 81.4 H558.8 Q561 81.4 561 83.6 V97.4 Z" fill="#fbefce" />
<path d="M554 86.5 L558.5 90.5 M554 88.5 H557" fill="none" stroke="#eec9b0" stroke-width="0.8"/>
<rect x="561.40" y="87.00" width="31.80" height="9.90" fill="#2a2a2a" />
<path d="M561.4 93 H556.1 V110.2" fill="none" stroke="#1c1c1c" stroke-width="2.4"/>
<line x1="501.40" y1="150.00" x2="501.40" y2="91.00" stroke="#222" stroke-width="1.20" />
<path d="M498.7 92.2 L501.5 86.6 L504.3 92.2 Z" fill="#111" />
<path d="M285.50 269.50 V50.50 H292.50" fill="none" stroke="#616b7c" stroke-width="0.85"/>
<path d="M318.50 123.00 V68.50 H326.50" fill="none" stroke="#616b7c" stroke-width="0.85"/>
<path d="M147.50 260.70 V106.50 H154.50" fill="none" stroke="#616b7c" stroke-width="0.85"/>
<path d="M222.50 263.00 V205.50 H229.00" fill="none" stroke="#616b7c" stroke-width="0.85"/>
<path d="M547.00 103.70 V50.50 H555.50" fill="none" stroke="#616b7c" stroke-width="0.85"/>
<path d="M653.60 270.50 V116.40 H661.00" fill="none" stroke="#616b7c" stroke-width="0.85"/>
<path d="M692.50 309.50 V155.60 H699.50" fill="none" stroke="#616b7c" stroke-width="0.85"/>
<line x1="557.50" y1="78.10" x2="583.80" y2="78.10" stroke="#777f8a" stroke-width="1.00" />
<line x1="593.20" y1="91.70" x2="608.60" y2="91.70" stroke="#777f8a" stroke-width="1.00" />
<text x="294.60" y="54.62" font-size="10.05" fill="#454c5a">改性生物炭填料盒</text>
<text x="328.80" y="72.42" font-size="10.05" fill="#454c5a">微藻负载棒</text>
<text x="156.30" y="110.42" font-size="10.05" fill="#454c5a">进水沟渠</text>
<text x="231.00" y="209.23" font-size="9.8" fill="#454c5a">阀门</text>
<text x="470.70" y="66.04" font-size="10.1" fill="#454c5a">微藻利用光合</text>
<text x="475.04" y="78.14" font-size="10.1" fill="#454c5a">作用吸收</text>
<text x="515.64" y="78.14" font-size="11.3" fill="#454c5a" textLength="9.9" lengthAdjust="spacingAndGlyphs">CO</text>
<text x="525.53" y="80.66" font-size="6.06" fill="#454c5a">2</text>
<text x="558.00" y="55.12" font-size="10.05" fill="#454c5a">可分离式集气罩</text>
<text x="584.30" y="80.46" font-size="9.6" fill="#454c5a">排气阀</text>
<text x="609.80" y="95.03" font-size="9.8" fill="#454c5a">温度计</text>
<text x="663.30" y="120.00" font-size="10" fill="#454c5a">可调水出口</text>
<text x="707.90" y="154.70" font-size="10" fill="#454c5a">集水渠</text>
<text x="491.70" y="160.16" font-size="9.6" fill="#454c5a">微藻</text>
<text x="486.90" y="173.16" font-size="9.6" fill="#454c5a">固碳区</text>
<text x="102.90" y="292.78" font-size="10.5" font-weight="bold" fill="#363b48">大量</text>
<text x="104.72" y="306.83" font-size="12.6" font-weight="bold" fill="#363b48" textLength="16.8" lengthAdjust="spacingAndGlyphs">SOC</text>
<text x="109.20" y="320.53" font-size="12.6" font-weight="bold" fill="#363b48" textLength="9.9" lengthAdjust="spacingAndGlyphs">IC</text>
<text x="693.40" y="282.82" font-size="10.6" font-weight="bold" fill="#363b48">少量</text>
<text x="694.83" y="297.48" font-size="12.5" font-weight="bold" fill="#363b48" textLength="17.4" lengthAdjust="spacingAndGlyphs">SOC</text>
<text x="699.52" y="311.48" font-size="12.5" font-weight="bold" fill="#363b48" textLength="10" lengthAdjust="spacingAndGlyphs">IC</text>
<circle cx="14.60" cy="371.40" r="3.50" fill="#cc0000" />
<circle cx="14.50" cy="387.40" r="3.20" fill="#6cb845" />
<circle cx="14.60" cy="403.50" r="3.30" fill="#7a2fb0" />
<path d="M10.7 419.4 L12.8 415.7 L17.0 415.7 L19.1 419.4 L17.0 423.1 L12.8 423.1 Z" fill="#3b7dd4" stroke="#3b7dd4" stroke-width="0.8" stroke-linejoin="round"/>
<rect x="10.1" y="432.8" width="9.1" height="5.5" rx="2.2" fill="#050505"/>
<text x="24.60" y="375.90" font-size="10" fill="#363636">二氧化碳</text>
<text x="24.60" y="391.40" font-size="10" fill="#363636">土壤有机碳（SOC）</text>
<text x="24.60" y="407.70" font-size="10" fill="#363636">无机碳（IC）</text>
<text x="24.60" y="424.10" font-size="10" fill="#363636">厌氧微生物</text>
<text x="24.60" y="440.10" font-size="10" fill="#363636">铁改性生物炭</text>
<path d="M130.20 371.15 H146.60 V368.60 L153.40 371.80 L146.60 375.00 V372.45 H130.20 Z" fill="#b8222e" />
<path d="M147.8 370.0 L151.6 371.8 L147.8 373.6 Z" fill="#c98a78" />
<path d="M130.20 385.80 H145.90 V383.30 L153.90 387.20 L145.90 391.10 V388.60 H130.20 Z" fill="#ed7d31" />
<text x="161.50" y="375.50" font-size="10" fill="#363636">进水</text>
<text x="161.50" y="391.40" font-size="10" fill="#363636">出水</text>
<rect x="130.1" y="400.2" width="24.0" height="11.2" fill="none" stroke="#ffc000" stroke-width="2" stroke-dasharray="6.2 1.8"/>
<rect x="130.1" y="427.6" width="24.0" height="11.3" fill="none" stroke="#8b4a15" stroke-width="2" stroke-dasharray="6.2 1.8"/>
<text x="161.50" y="409.24" font-size="10.1" fill="#363636" textLength="90.9" lengthAdjust="spacing">微藻-生物炭-微生物</text>
<text x="161.50" y="421.04" font-size="10.1" fill="#363636" textLength="91.8" lengthAdjust="spacing">复合固定SOC、IC区</text>
<text x="161.50" y="436.52" font-size="10.05" fill="#363636">微藻吸收二氧化碳区</text>
<text x="281.40" y="391.37" font-size="10.2" fill="#363636">铁改性生物炭通过物理吸附、化</text>
<text x="298.80" y="403.27" font-size="10.2" fill="#363636" textLength="107" lengthAdjust="spacingAndGlyphs">学络合作用固定SOC、IC</text>
<text x="450.50" y="390.05" font-size="10.15" fill="#363636">铁改性生物炭提高微生物化能固</text>
<text x="501.30" y="402.05" font-size="10.15" fill="#363636" textLength="40.6" lengthAdjust="spacingAndGlyphs">定IC能力</text>
<rect x="290.80" y="424.20" width="20.70" height="12.60" fill="#8f7357" stroke="#7a5c40" stroke-width="0.6"/>
<text x="322.00" y="434.06" font-size="9.6" fill="#363636">土壤</text>
<rect x="388.00" y="424.20" width="20.70" height="12.60" fill="#a9d18e" />
<text x="419.00" y="434.06" font-size="9.6" fill="#363636">微藻</text>
<rect x="474.50" y="424.20" width="20.70" height="12.60" fill="#808080" stroke="#6a6a6a" stroke-width="0.6"/>
<text x="504.80" y="434.22" font-size="10.05" fill="#363636">装置外部结构</text>
<path d="M608.30 384.20 C609.49 375.92 604.14 366.12 597.60 364.60 C595.34 370.92 600.69 380.72 608.30 384.20 Z" fill="#4f9129" />
<path d="M607.76 383.22 C608.28 375.99 603.41 367.08 598.03 365.38 C596.54 370.83 601.41 379.74 607.76 383.22 Z" fill="#62a737" />
<path d="M606.91 381.65 C606.61 376.09 602.60 368.74 598.88 366.95 C598.38 371.05 602.39 378.40 606.91 381.65 Z" fill="#76b948" />
<path d="M608.30 384.20 C615.86 380.77 621.11 371.07 618.80 364.80 C612.29 366.29 607.04 375.99 608.30 384.20 Z" fill="#4f9129" />
<path d="M608.82 383.23 C615.13 379.80 619.91 370.97 618.38 365.58 C613.03 367.24 608.25 376.07 608.82 383.23 Z" fill="#62a737" />
<path d="M609.66 381.68 C614.14 378.46 618.08 371.18 617.54 367.13 C613.85 368.89 609.91 376.17 609.66 381.68 Z" fill="#76b948" />
<text x="626.20" y="379.10" font-size="10" fill="#363636">水稻幼苗</text>
<rect x="597.00" y="388.30" width="20.00" height="11.60" fill="url(#swatch)" />
<text x="627.00" y="398.50" font-size="10" fill="#363636">农田尾水</text>
<path d="M595.20 410.90 H611.30 V408.60 L619.30 412.30 L611.30 416.00 V413.70 H595.20 Z" fill="#4472c4" />
<text x="626.00" y="416.30" font-size="10" fill="#363636" textLength="61" lengthAdjust="spacing">SOC、IC流向</text>
<path d="M595.20 428.30 H611.30 V426.00 L619.30 429.70 L611.30 433.40 V431.10 H595.20 Z" fill="#92d050" />
<text x="626.00" y="433.70" font-size="10" fill="#363636">二氧化碳流向</text>
<path d="M708.6 370.4 L730.3 377.1 L730.3 370.4 L708.6 377.1 Z" fill="#b4dcf7" stroke="#4f6275" stroke-width="0.7"/>
<text x="736.80" y="375.88" font-size="9.4" fill="#363636">阀门</text>
<rect x="708.10" y="388.80" width="20.20" height="11.70" fill="#8eabe0" />
<text x="739.30" y="398.50" font-size="10" fill="#363636">可分离式集气罩</text>
<rect x="701.20" y="415.20" width="10.70" height="25.30" fill="#9b9690" stroke="#6e6a64" stroke-width="0.7"/>
<line x1="701.30" y1="410.30" x2="701.30" y2="415.50" stroke="#333" stroke-width="1.00" />
<line x1="711.80" y1="410.30" x2="711.80" y2="415.50" stroke="#333" stroke-width="1.00" />
<rect x="703.10" y="417.40" width="1.60" height="1.40" fill="#3c3c3c" />
<rect x="706.00" y="417.40" width="1.60" height="1.40" fill="#3c3c3c" />
<rect x="708.90" y="417.40" width="1.60" height="1.40" fill="#3c3c3c" />
<rect x="703.10" y="419.95" width="1.60" height="1.40" fill="#3c3c3c" />
<rect x="706.00" y="419.95" width="1.60" height="1.40" fill="#3c3c3c" />
<rect x="708.90" y="419.95" width="1.60" height="1.40" fill="#3c3c3c" />
<rect x="703.10" y="422.50" width="1.60" height="1.40" fill="#3c3c3c" />
<rect x="706.00" y="422.50" width="1.60" height="1.40" fill="#3c3c3c" />
<rect x="708.90" y="422.50" width="1.60" height="1.40" fill="#3c3c3c" />
<rect x="703.10" y="425.05" width="1.60" height="1.40" fill="#3c3c3c" />
<rect x="706.00" y="425.05" width="1.60" height="1.40" fill="#3c3c3c" />
<rect x="708.90" y="425.05" width="1.60" height="1.40" fill="#3c3c3c" />
<rect x="703.10" y="427.60" width="1.60" height="1.40" fill="#3c3c3c" />
<rect x="706.00" y="427.60" width="1.60" height="1.40" fill="#3c3c3c" />
<rect x="708.90" y="427.60" width="1.60" height="1.40" fill="#3c3c3c" />
<rect x="703.10" y="430.15" width="1.60" height="1.40" fill="#3c3c3c" />
<rect x="706.00" y="430.15" width="1.60" height="1.40" fill="#3c3c3c" />
<rect x="708.90" y="430.15" width="1.60" height="1.40" fill="#3c3c3c" />
<rect x="703.10" y="432.70" width="1.60" height="1.40" fill="#3c3c3c" />
<rect x="706.00" y="432.70" width="1.60" height="1.40" fill="#3c3c3c" />
<rect x="708.90" y="432.70" width="1.60" height="1.40" fill="#3c3c3c" />
<rect x="703.10" y="435.25" width="1.60" height="1.40" fill="#3c3c3c" />
<rect x="706.00" y="435.25" width="1.60" height="1.40" fill="#3c3c3c" />
<rect x="708.90" y="435.25" width="1.60" height="1.40" fill="#3c3c3c" />
<rect x="703.10" y="437.80" width="1.60" height="1.40" fill="#3c3c3c" />
<rect x="706.00" y="437.80" width="1.60" height="1.40" fill="#3c3c3c" />
<rect x="708.90" y="437.80" width="1.60" height="1.40" fill="#3c3c3c" />
<text x="720.50" y="424.05" font-size="9.85" fill="#505050">改性生物</text>
<text x="720.50" y="437.05" font-size="9.85" fill="#505050">炭填料盒</text>
<rect x="770.00" y="402.20" width="8.50" height="42.80" fill="#303030" />
<text x="790.20" y="424.88" font-size="9.4" fill="#454545">微藻负</text>
<text x="790.20" y="437.18" font-size="9.4" fill="#454545">载棒</text>
</svg>
</body></html>
